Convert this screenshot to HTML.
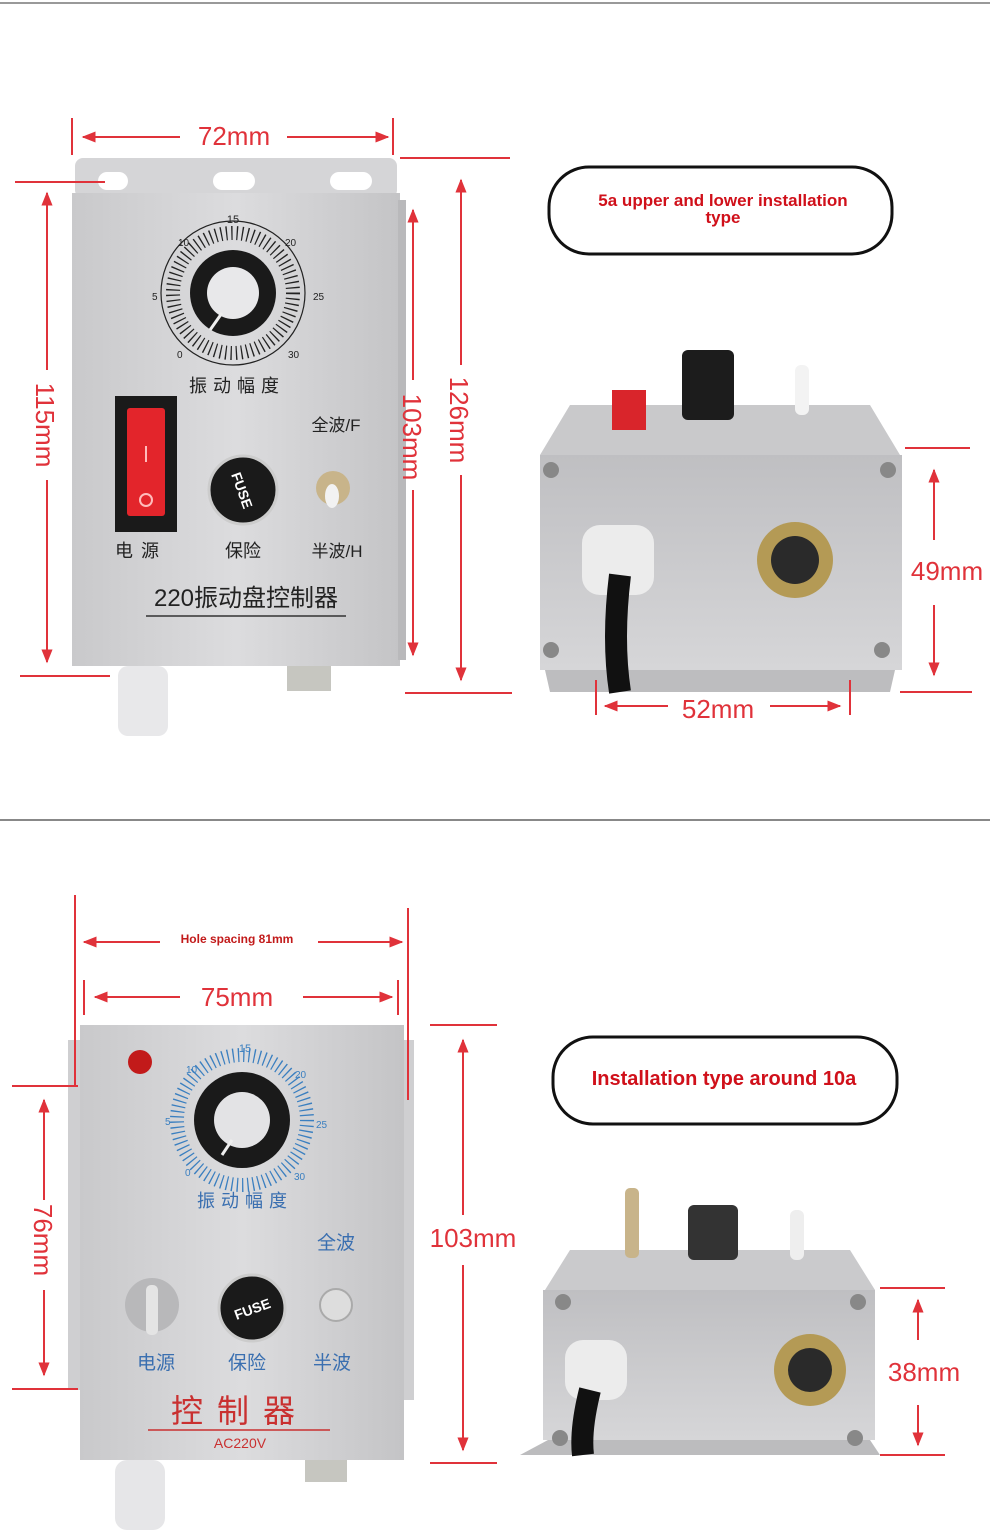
<!DOCTYPE html>
<html><head><meta charset="utf-8"><style>
html,body{margin:0;padding:0;background:#fff}
svg{display:block}
text{font-family:"Liberation Sans","Noto Sans CJK SC",sans-serif}
</style></head><body>
<svg width="990" height="1533" viewBox="0 0 990 1533" xmlns="http://www.w3.org/2000/svg">
<defs>
<linearGradient id="silver" x1="0" y1="0" x2="1" y2="0">
<stop offset="0" stop-color="#c9c9cb"/><stop offset="0.5" stop-color="#dcdcde"/><stop offset="1" stop-color="#c4c4c6"/></linearGradient>
<linearGradient id="silver2" x1="0" y1="0" x2="0" y2="1">
<stop offset="0" stop-color="#bfbfc2"/><stop offset="1" stop-color="#d6d6d8"/></linearGradient>
<marker id="ar" viewBox="0 0 10 10" refX="9" refY="5" markerWidth="7" markerHeight="7" orient="auto-start-reverse"><path d="M0,1 L10,5 L0,9z" fill="#e0323a"/></marker>
</defs>
<rect width="990" height="1533" fill="#fff"/>
<line x1="0" y1="3" x2="990" y2="3" stroke="#999" stroke-width="2"/>
<line x1="0" y1="820" x2="990" y2="820" stroke="#888" stroke-width="2"/>

<!-- ===== TOP LEFT DEVICE ===== -->
<g>
<rect x="75" y="158" width="322" height="40" rx="8" fill="#d5d5d7"/>
<rect x="98" y="172" width="30" height="18" rx="9" fill="#fff"/>
<rect x="213" y="172" width="42" height="18" rx="9" fill="#fff"/>
<rect x="330" y="172" width="42" height="18" rx="9" fill="#fff"/>
<rect x="72" y="193" width="328" height="473" fill="url(#silver)"/>
<rect x="398" y="200" width="8" height="460" fill="#b9b9bb"/>
<!-- dial -->
<circle cx="233" cy="293" r="72" fill="none" stroke="#222" stroke-width="1.2"/>
<circle cx="233" cy="293" r="60" fill="none" stroke="#222" stroke-width="14" stroke-dasharray="1.3 4"/>
<circle cx="233" cy="293" r="43" fill="#1a1a1a"/>
<circle cx="233" cy="293" r="26" fill="#e8e8ea"/>
<line x1="222" y1="313" x2="210" y2="330" stroke="#eee" stroke-width="3"/>
<text x="233" y="223" font-size="11" text-anchor="middle" fill="#222">15</text>
<text x="178" y="246" font-size="10" fill="#222">10</text>
<text x="285" y="246" font-size="10" fill="#222">20</text>
<text x="152" y="300" font-size="10" fill="#222">5</text>
<text x="313" y="300" font-size="10" fill="#222">25</text>
<text x="177" y="358" font-size="10" fill="#222">0</text>
<text x="288" y="358" font-size="10" fill="#222">30</text>
<text x="237" y="392" font-size="18" text-anchor="middle" fill="#222" letter-spacing="6">振动幅度</text>
<!-- switch -->
<rect x="115" y="396" width="62" height="136" fill="#1a1a1a"/>
<rect x="127" y="408" width="38" height="108" rx="3" fill="#e3252b"/>
<line x1="146" y1="446" x2="146" y2="462" stroke="#fbb" stroke-width="2"/>
<circle cx="146" cy="500" r="6" fill="none" stroke="#fbb" stroke-width="2"/>
<text x="141" y="557" font-size="18" text-anchor="middle" fill="#222" letter-spacing="8">电源</text>
<circle cx="243" cy="490" r="34" fill="#1a1a1a" stroke="#ccc" stroke-width="3"/>
<text x="243" y="496" font-size="14" font-weight="bold" text-anchor="middle" fill="#fff" transform="rotate(70 243 490)">FUSE</text>
<text x="243" y="557" font-size="18" text-anchor="middle" fill="#222">保险</text>
<circle cx="333" cy="488" r="17" fill="#c8b48a"/>
<ellipse cx="332" cy="496" rx="7" ry="12" fill="#f2f2f2"/>
<text x="336" y="431" font-size="17" text-anchor="middle" fill="#222">全波/F</text>
<text x="337" y="557" font-size="17" text-anchor="middle" fill="#222">半波/H</text>
<text x="246" y="606" font-size="24" text-anchor="middle" fill="#222">220振动盘控制器</text>
<line x1="146" y1="616" x2="346" y2="616" stroke="#333" stroke-width="1.5"/>
<rect x="118" y="666" width="50" height="70" rx="10" fill="#e8e8ea"/>
<rect x="287" y="666" width="44" height="25" fill="#c6c6c0"/>
</g>
<!-- dims top left -->
<g stroke="#e0323a" stroke-width="2" fill="none">
<line x1="72" y1="118" x2="72" y2="155"/><line x1="393" y1="118" x2="393" y2="155"/>
<line x1="83" y1="137" x2="180" y2="137" marker-start="url(#ar)"/>
<line x1="287" y1="137" x2="388" y2="137" marker-end="url(#ar)"/>
<line x1="15" y1="182" x2="105" y2="182"/><line x1="20" y1="676" x2="110" y2="676"/>
<line x1="47" y1="193" x2="47" y2="370" marker-start="url(#ar)"/>
<line x1="47" y1="480" x2="47" y2="662" marker-end="url(#ar)"/>
<line x1="400" y1="158" x2="510" y2="158"/><line x1="405" y1="693" x2="512" y2="693"/>
<line x1="461" y1="180" x2="461" y2="365" marker-start="url(#ar)"/>
<line x1="461" y1="475" x2="461" y2="680" marker-end="url(#ar)"/>
<line x1="413" y1="210" x2="413" y2="380" marker-start="url(#ar)"/>
<line x1="413" y1="490" x2="413" y2="655" marker-end="url(#ar)"/>
</g>
<text x="234" y="145" font-size="26" text-anchor="middle" fill="#e0323a">72mm</text>
<text x="36" y="425" font-size="26" text-anchor="middle" fill="#e0323a" transform="rotate(90 36 425)">115mm</text>
<text x="450" y="420" font-size="26" text-anchor="middle" fill="#e0323a" transform="rotate(90 450 420)">126mm</text>
<text x="403" y="437" font-size="26" text-anchor="middle" fill="#e0323a" transform="rotate(90 403 437)">103mm</text>

<!-- pill top -->
<rect x="549" y="167" width="343" height="87" rx="40" fill="#fff" stroke="#111" stroke-width="3"/>
<text x="723" y="206" font-size="17" font-weight="bold" text-anchor="middle" fill="#d0101a">5a upper and lower installation</text>
<text x="723" y="223" font-size="17" font-weight="bold" text-anchor="middle" fill="#d0101a">type</text>

<!-- top right device -->
<g>
<polygon points="570,405 870,405 900,455 540,455" fill="#c9c9cb"/>
<rect x="540" y="455" width="362" height="215" fill="url(#silver2)"/>
<polygon points="545,670 895,670 890,692 550,692" fill="#bdbdbf"/>
<rect x="612" y="390" width="34" height="40" fill="#d9252b"/>
<rect x="682" y="350" width="52" height="70" rx="6" fill="#1c1c1c"/>
<rect x="795" y="365" width="14" height="50" rx="6" fill="#f3f3f3"/>
<circle cx="551" cy="470" r="8" fill="#888"/><circle cx="888" cy="470" r="8" fill="#888"/>
<circle cx="551" cy="650" r="8" fill="#888"/><circle cx="882" cy="650" r="8" fill="#888"/>
<rect x="582" y="525" width="72" height="70" rx="18" fill="#ececec"/>
<path d="M620,575 Q612,640 620,692" stroke="#111" stroke-width="22" fill="none"/>
<circle cx="795" cy="560" r="38" fill="#b49a55"/>
<circle cx="795" cy="560" r="24" fill="#2a2a2a"/>
</g>
<g stroke="#e0323a" stroke-width="2" fill="none">
<line x1="905" y1="448" x2="970" y2="448"/><line x1="900" y1="692" x2="972" y2="692"/>
<line x1="934" y1="470" x2="934" y2="540" marker-start="url(#ar)"/>
<line x1="934" y1="605" x2="934" y2="675" marker-end="url(#ar)"/>
<line x1="596" y1="680" x2="596" y2="715"/><line x1="850" y1="680" x2="850" y2="715"/>
<line x1="605" y1="706" x2="668" y2="706" marker-start="url(#ar)"/>
<line x1="770" y1="706" x2="840" y2="706" marker-end="url(#ar)"/>
</g>
<text x="947" y="580" font-size="26" text-anchor="middle" fill="#e0323a">49mm</text>
<text x="718" y="718" font-size="26" text-anchor="middle" fill="#e0323a">52mm</text>

<!-- ===== BOTTOM LEFT DEVICE ===== -->
<g>
<rect x="68" y="1040" width="14" height="350" fill="#cfcfd1"/>
<rect x="402" y="1040" width="12" height="360" fill="#cfcfd1"/>
<rect x="80" y="1025" width="324" height="435" fill="url(#silver)"/>
<circle cx="140" cy="1062" r="12" fill="#c21a1a"/>
<circle cx="242" cy="1120" r="65" fill="none" stroke="#3a7fc0" stroke-width="14" stroke-dasharray="1.3 4"/>
<circle cx="242" cy="1120" r="48" fill="#1a1a1a"/>
<circle cx="242" cy="1120" r="28" fill="#e3e3e5"/>
<line x1="232" y1="1140" x2="222" y2="1155" stroke="#eee" stroke-width="3"/>
<text x="245" y="1052" font-size="11" text-anchor="middle" fill="#3a7fc0">15</text>
<text x="186" y="1073" font-size="10" fill="#3a7fc0">10</text>
<text x="295" y="1078" font-size="10" fill="#3a7fc0">20</text>
<text x="165" y="1125" font-size="10" fill="#3a7fc0">5</text>
<text x="316" y="1128" font-size="10" fill="#3a7fc0">25</text>
<text x="185" y="1176" font-size="10" fill="#3a7fc0">0</text>
<text x="294" y="1180" font-size="10" fill="#3a7fc0">30</text>
<text x="245" y="1207" font-size="18" text-anchor="middle" fill="#3a6fb0" letter-spacing="6">振动幅度</text>
<text x="336" y="1249" font-size="19" text-anchor="middle" fill="#3a6fb0">全波</text>
<circle cx="152" cy="1305" r="27" fill="#b8b8ba"/>
<rect x="146" y="1285" width="12" height="50" rx="5" fill="#e4e4e4"/>
<text x="156" y="1369" font-size="19" text-anchor="middle" fill="#3a6fb0">电源</text>
<circle cx="252" cy="1308" r="33" fill="#1a1a1a" stroke="#ccc" stroke-width="3"/>
<text x="252" y="1314" font-size="14" font-weight="bold" text-anchor="middle" fill="#fff" transform="rotate(-20 252 1308)">FUSE</text>
<text x="247" y="1369" font-size="19" text-anchor="middle" fill="#3a6fb0">保险</text>
<circle cx="336" cy="1305" r="16" fill="#ddd" stroke="#aaa" stroke-width="2"/>
<text x="332" y="1369" font-size="19" text-anchor="middle" fill="#3a6fb0">半波</text>
<text x="240" y="1422" font-size="32" text-anchor="middle" fill="#c93030" letter-spacing="14">控制器</text>
<line x1="148" y1="1430" x2="330" y2="1430" stroke="#c93030" stroke-width="1.5"/>
<text x="240" y="1448" font-size="14" text-anchor="middle" fill="#c93030">AC220V</text>
<rect x="115" y="1460" width="50" height="70" rx="12" fill="#e6e6e8"/>
<rect x="305" y="1460" width="42" height="22" fill="#c6c6c0"/>
</g>
<g stroke="#e0323a" stroke-width="2" fill="none">
<line x1="75" y1="895" x2="75" y2="1085"/><line x1="408" y1="908" x2="408" y2="1100"/>
<line x1="84" y1="942" x2="160" y2="942" marker-start="url(#ar)"/>
<line x1="318" y1="942" x2="402" y2="942" marker-end="url(#ar)"/>
<line x1="84" y1="980" x2="84" y2="1015"/><line x1="398" y1="980" x2="398" y2="1015"/>
<line x1="95" y1="997" x2="180" y2="997" marker-start="url(#ar)"/>
<line x1="303" y1="997" x2="392" y2="997" marker-end="url(#ar)"/>
<line x1="12" y1="1086" x2="78" y2="1086"/><line x1="12" y1="1389" x2="78" y2="1389"/>
<line x1="44" y1="1100" x2="44" y2="1200" marker-start="url(#ar)"/>
<line x1="44" y1="1290" x2="44" y2="1375" marker-end="url(#ar)"/>
<line x1="430" y1="1025" x2="497" y2="1025"/><line x1="430" y1="1463" x2="497" y2="1463"/>
<line x1="463" y1="1040" x2="463" y2="1215" marker-start="url(#ar)"/>
<line x1="463" y1="1265" x2="463" y2="1450" marker-end="url(#ar)"/>
</g>
<text x="237" y="943" font-size="12" font-weight="bold" text-anchor="middle" fill="#c21a1a">Hole spacing 81mm</text>
<text x="237" y="1006" font-size="26" text-anchor="middle" fill="#e0323a">75mm</text>
<text x="34" y="1240" font-size="26" text-anchor="middle" fill="#e0323a" transform="rotate(90 34 1240)">76mm</text>
<text x="473" y="1247" font-size="26" text-anchor="middle" fill="#e0323a">103mm</text>

<rect x="553" y="1037" width="344" height="87" rx="40" fill="#fff" stroke="#111" stroke-width="3"/>
<text x="724" y="1085" font-size="20" font-weight="bold" text-anchor="middle" fill="#d0101a">Installation type around 10a</text>

<!-- bottom right device -->
<g>
<polygon points="570,1250 850,1250 875,1290 545,1290" fill="#cacacc"/>
<rect x="543" y="1290" width="332" height="150" fill="url(#silver2)"/>
<polygon points="548,1440 870,1440 880,1455 520,1455" fill="#bcbcbe"/>
<rect x="625" y="1188" width="14" height="70" rx="5" fill="#c8b48a"/>
<rect x="688" y="1205" width="50" height="55" rx="6" fill="#333"/>
<rect x="790" y="1210" width="14" height="50" rx="6" fill="#eee"/>
<circle cx="563" cy="1302" r="8" fill="#888"/><circle cx="858" cy="1302" r="8" fill="#888"/>
<circle cx="560" cy="1438" r="8" fill="#888"/><circle cx="855" cy="1438" r="8" fill="#888"/>
<rect x="565" y="1340" width="62" height="60" rx="18" fill="#ececec"/>
<path d="M590,1390 Q580,1430 583,1455" stroke="#111" stroke-width="22" fill="none"/>
<circle cx="810" cy="1370" r="36" fill="#b49a55"/>
<circle cx="810" cy="1370" r="22" fill="#2a2a2a"/>
</g>
<g stroke="#e0323a" stroke-width="2" fill="none">
<line x1="880" y1="1288" x2="945" y2="1288"/><line x1="880" y1="1455" x2="945" y2="1455"/>
<line x1="918" y1="1300" x2="918" y2="1340" marker-start="url(#ar)"/>
<line x1="918" y1="1405" x2="918" y2="1445" marker-end="url(#ar)"/>
</g>
<text x="924" y="1381" font-size="26" text-anchor="middle" fill="#e0323a">38mm</text>
</svg>
</body></html>
